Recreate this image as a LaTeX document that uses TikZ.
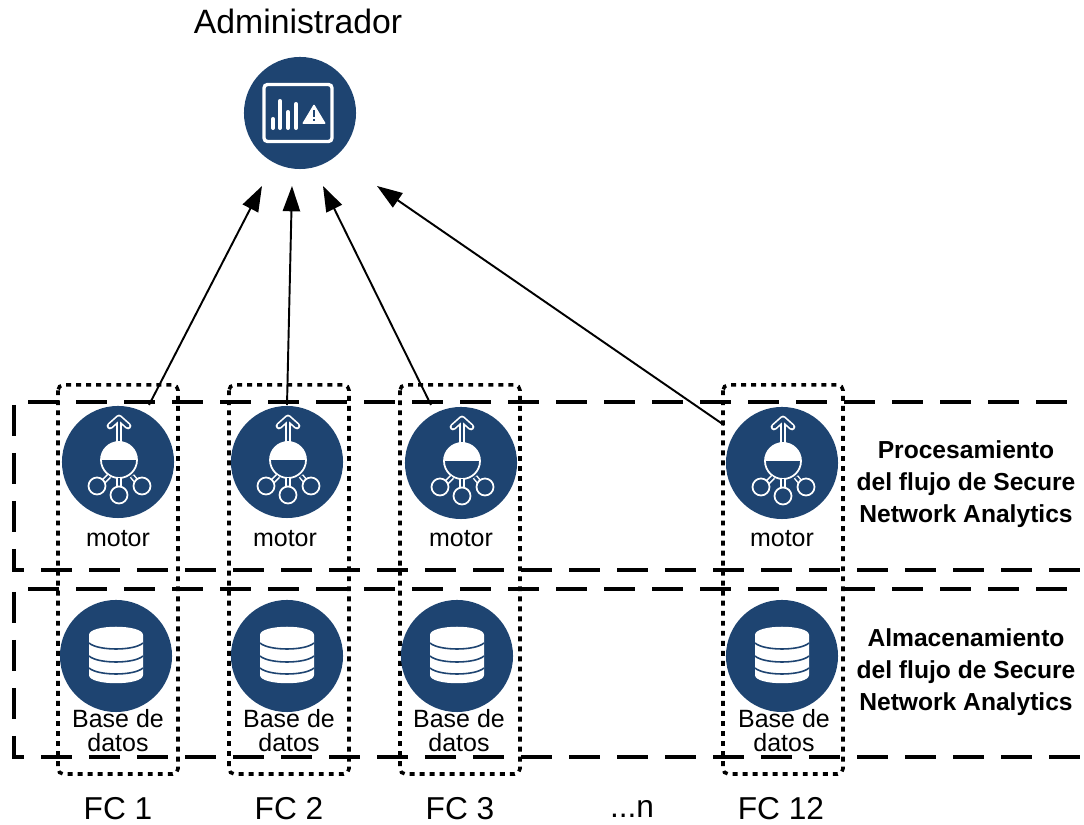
\documentclass[tikz,border=0pt]{standalone}
\usepackage{fontspec}
\setmainfont{Liberation Sans}
\usetikzlibrary{arrows.meta}

\definecolor{ciscoblue}{HTML}{1E4471}

\tikzset{
  bluedot/.style={circle,fill=ciscoblue,minimum size=1.12cm,inner sep=0pt},
  bandline/.style={line width=.9pt,dash pattern=on 8.8pt off 4.85pt},
  fcbox/.style={line width=1pt,dash pattern=on 1.4pt off 1.45pt,rounded corners=1.5pt},
  flowarrow/.style={line width=.55pt,-{Triangle[length=7.2pt,width=4.9pt]}},
  iconline/.style={white,line width=.5pt},
  hollowline/.style={draw=white,line width=.42pt,double=ciscoblue,double distance=.7pt},
  label/.style={inner sep=0pt,align=center,font=\fontsize{7.1}{6.8}\selectfont},
  bigtext/.style={inner sep=0pt,font=\fontsize{9}{10}\selectfont},
  bandtext/.style={inner sep=0pt,align=center,font=\fontsize{7}{9.1}\selectfont\bfseries},
  motoricon/.pic={
    % arrow out of the top
    \draw[white,line width=1.5pt] (1,-19) -- (1,-42);
    \draw[white,line width=1.9pt,line cap=round,line join=round] (-8,-36) -- (1,-44) -- (10,-36);
    \draw[ciscoblue,line width=.75pt] (1,-20) -- (1,-42);
    \draw[ciscoblue,line width=.95pt,line cap=round,line join=round] (-8,-36) -- (1,-44) -- (10,-36);
    % half filled bulb
    \draw[iconline] (1,-2) circle (18);
    \fill[white] (-17,-2) arc(180:360:18) -- cycle;
    % three outlets
    \draw[hollowline] (-9,14) -- (-15,20);
    \draw[hollowline] (1,16) -- (1,25);
    \draw[hollowline] (14,14) -- (19,20);
    \draw[iconline,fill=ciscoblue] (-21,24) circle (8.5);
    \draw[iconline,fill=ciscoblue] (1,33) circle (8.5);
    \draw[iconline,fill=ciscoblue] (24,24) circle (8.5);
  },
  dbicon/.pic={
    \fill[white] (-27,-21) .. controls (-27,-32) and (27,-32) .. (27,-21) -- (27,19)
      .. controls (27,30) and (-27,30) .. (-27,19) -- cycle;
    \foreach \yy in {-13,0,12} {
      \draw[ciscoblue,line width=.45pt] (-27,\yy) .. controls (-18,\yy+8) and (18,\yy+8) .. (27,\yy);
    }
  },
  adminicon/.pic={
    \draw[white,line width=.95pt,rounded corners=1pt] (-36,-28.5) rectangle (32,28.5);
    % bars
    \draw[white,line width=1.15pt,line cap=round] (-27,15) -- (-27,6) (-20,15) -- (-20,-12) (-12,15) -- (-12,-1) (-4,15) -- (-4,-9);
    % warning sign
    \fill[white,rounded corners=.3pt] (14,-9) -- (26,11) -- (2,11) -- cycle;
    \draw[ciscoblue,line width=.7pt] (14,-3) -- (14,4) (14,6) -- (14,8.5);
  }
}

\begin{document}
\begin{tikzpicture}[x=.01cm,y=-.01cm]
  \useasboundingbox (0,0) rectangle (1084,825);
  % processing band
  \draw[bandline] (14,405) -- (14,570) -- (1084,570);
  \draw[bandline] (28,402) -- (1084,402);
  % storage band
  \draw[bandline] (14,592) -- (14,757) -- (1084,757);
  \draw[bandline] (28,589) -- (1084,589);
  % one dotted box per FC
  \foreach \xx in {58,229,400,723} {
    \draw[fcbox] (\xx,385) rectangle (\xx+120,774);
  }
  % admin
  \node[bigtext,font=\fontsize{9.6}{10}\selectfont] (admintext) at (298,21) {Administrador};
  \node[bluedot] (admin) at (300,113) {};
  \pic at (admin) {adminicon};
  % engines
  \node[bluedot] (motorA) at (118,462) {};
  \node[bluedot] (motorB) at (287,462) {};
  \node[bluedot] (motorC) at (461,463) {};
  \node[bluedot] (motorD) at (782,463) {};
  \foreach \nn in {motorA,motorB,motorC,motorD} {
    \pic at (\nn) {motoricon};
  }
  \node[label] (motortextA) at (118,539) {motor};
  \node[label] (motortextB) at (285,539) {motor};
  \node[label] (motortextC) at (461,539) {motor};
  \node[label] (motortextD) at (782,539) {motor};
  % databases
  \node[bluedot] (dbA) at (116,656) {};
  \node[bluedot] (dbB) at (287,656) {};
  \node[bluedot] (dbC) at (457,656) {};
  \node[bluedot] (dbD) at (782,656) {};
  \foreach \nn in {dbA,dbB,dbC,dbD} {
    \pic at (\nn) {dbicon};
  }
  \node[label] (dbtextA) at (118,731) {Base de\\datos};
  \node[label] (dbtextB) at (289,731) {Base de\\datos};
  \node[label] (dbtextC) at (459,731) {Base de\\datos};
  \node[label] (dbtextD) at (784,731) {Base de\\datos};
  % bottom row
  \node[bigtext] (fcA) at (118,809) {FC 1};
  \node[bigtext] (fcB) at (289,809) {FC 2};
  \node[bigtext] (fcC) at (460,809) {FC 3};
  \node[bigtext] (fcN) at (632,809) {...n};
  \node[bigtext] (fcD) at (781,809) {FC 12};
  % band labels
  \node[bandtext] (proctext) at (966,484) {Procesamiento\\del flujo de Secure\\Network Analytics};
  \node[bandtext] (storetext) at (966,672) {Almacenamiento\\del flujo de Secure\\Network Analytics};
  % arrows
  \coordinate (A) at (149,405); \coordinate (B) at (287,405); \coordinate (C) at (431,405); \coordinate (D) at (724,425);
  \coordinate (P) at (262,186); \coordinate (Q) at (292,186); \coordinate (R) at (323,186); \coordinate (S) at (377,186);
  \draw[flowarrow] (A) -- (P);
  \draw[flowarrow] (B) -- (Q);
  \draw[flowarrow] (C) -- (R);
  \draw[flowarrow] (D) -- (S);
\end{tikzpicture}
\end{document}
